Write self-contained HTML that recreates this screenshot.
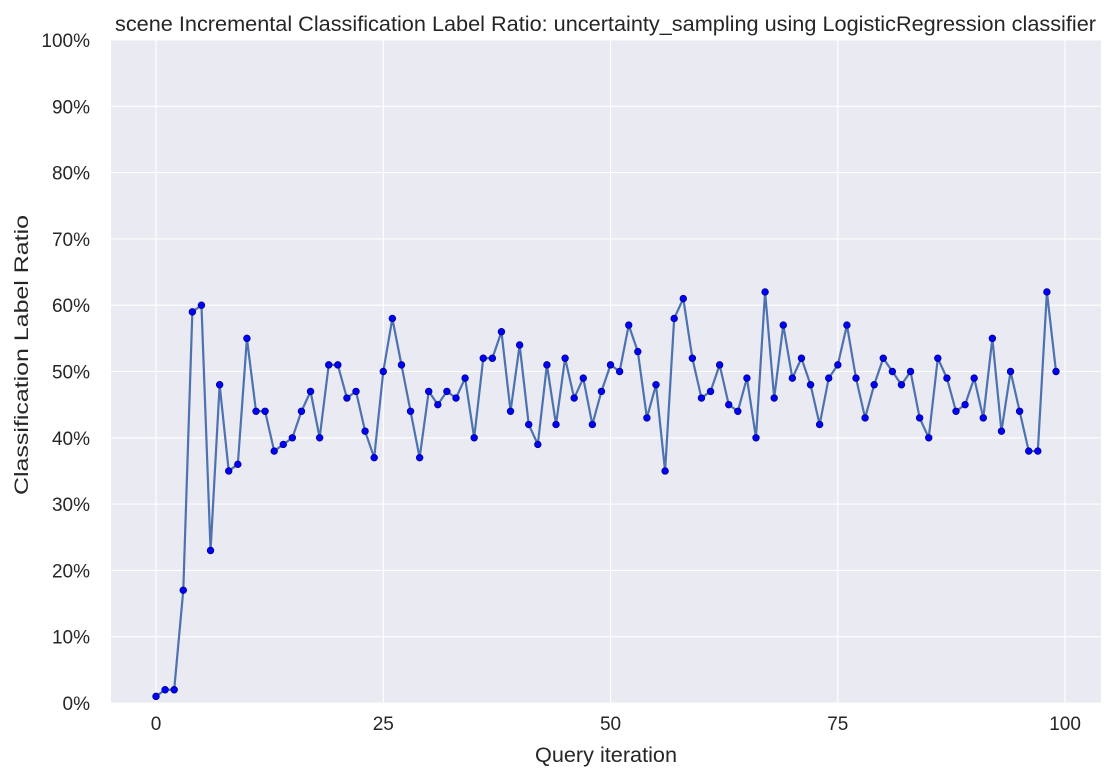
<!DOCTYPE html>
<html>
<head>
<meta charset="utf-8">
<style>
html,body{margin:0;padding:0;background:#fff;}
svg{display:block;font-family:"Liberation Sans","DejaVu Sans",sans-serif;}
</style>
</head>
<body>
<svg id="chart" width="1115" height="779" viewBox="0 0 1115 779" xmlns="http://www.w3.org/2000/svg"></svg>
<script>
const values = [1,2,2,17,59,60,23,48,35,36,55,44,44,38,39,40,44,47,40,51,51,46,47,41,37,50,58,51,44,37,47,45,47,46,49,40,52,52,56,44,54,42,39,51,42,52,46,49,42,47,51,50,57,53,43,48,35,58,61,52,46,47,51,45,44,49,40,62,46,57,49,52,48,42,49,51,57,49,43,48,52,50,48,50,43,40,52,49,44,45,49,43,55,41,50,44,38,38,62,50];
const xTicks = [0,25,50,75,100];
const yTicks = [0,10,20,30,40,50,60,70,80,90,100];
const titleText = "scene Incremental Classification Label Ratio: uncertainty_sampling using LogisticRegression classifier";

const L=111,R=1101,T=40,B=703;
const xMin=-4.95,xMax=103.95;
const xs=v=>L+(v-xMin)/(xMax-xMin)*(R-L);
const ys=v=>B-v/100*(B-T);
const NS="http://www.w3.org/2000/svg";
const svg=document.getElementById('chart');
function mk(tag,attrs,parent){const e=document.createElementNS(NS,tag);for(const k in attrs)e.setAttribute(k,attrs[k]);(parent||svg).appendChild(e);return e;}

const bg=mk('rect',{x:L,y:T,width:R-L,height:B-T,fill:'#eaeaf2'});



for(const t of yTicks){
  const y=ys(t);
  const g=mk('line',{x1:L,x2:R,y1:y,y2:y,stroke:'#fff','stroke-width':1.1});
  
  
  const lb=mk('text',{x:90,y:y+7,'text-anchor':'end','font-size':19,fill:'#262626'});
  lb.textContent=t+'%';
  
  
}
for(const t of xTicks){
  const x=xs(t);
  const g=mk('line',{x1:x,x2:x,y1:T,y2:B,stroke:'#fff','stroke-width':1.1});
  
  
  const lb=mk('text',{x:x,y:730,'text-anchor':'middle','font-size':19,fill:'#262626'});
  lb.textContent=t;
  
  
}

const pts=values.map((v,i)=>xs(i).toFixed(2)+','+ys(v).toFixed(2)).join(' ');
const line=mk('polyline',{points:pts,fill:'none',stroke:'#4c72b0','stroke-width':2.2,'stroke-linejoin':'round'});



values.forEach((v,i)=>{
  const c=mk('circle',{cx:xs(i),cy:ys(v),r:3.3,fill:'#0000ff',stroke:'#00008b','stroke-width':0.8});
  
  
});

const title=mk('text',{x:115,y:31,'font-size':21,fill:'#262626',textLength:981,lengthAdjust:'spacingAndGlyphs'});
title.textContent=titleText;



const xt=mk('text',{x:606,y:762,'text-anchor':'middle','font-size':21,fill:'#262626',textLength:142,lengthAdjust:'spacingAndGlyphs'});
xt.textContent='Query iteration';



const yt=mk('text',{x:0,y:0,'text-anchor':'middle','font-size':19,fill:'#262626',textLength:280,lengthAdjust:'spacingAndGlyphs',transform:'translate(28,355) rotate(-90)'});
yt.textContent='Classification Label Ratio';


</script>
</body>
</html>
